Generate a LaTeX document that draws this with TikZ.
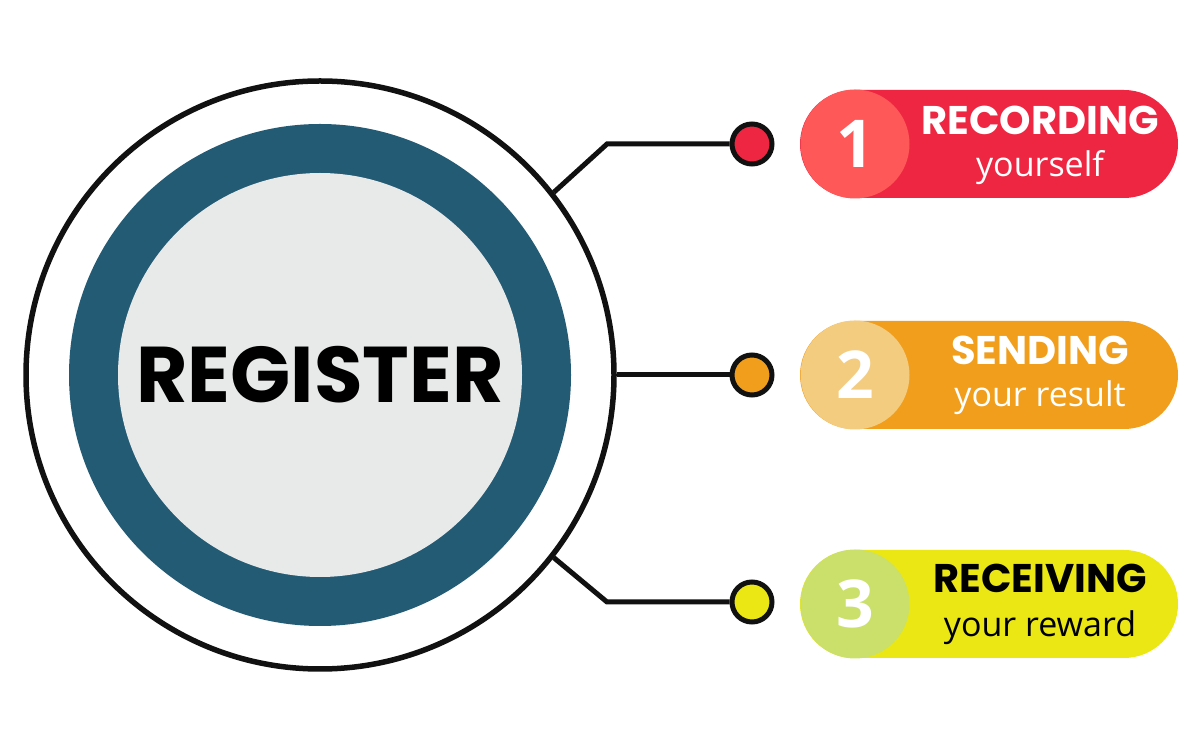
\documentclass[tikz,border=0pt]{standalone}
\usepackage{fontspec}
\setmainfont{Open Sans}
\newfontfamily\headfont{Poppins}
\usepackage{xcolor}
\definecolor{ringblue}{HTML}{235A74}
\definecolor{coregray}{HTML}{E8EAE9}
\definecolor{linedark}{HTML}{111111}
\definecolor{stepred}{HTML}{EE2641}
\definecolor{numred}{HTML}{FF5858}
\definecolor{steporange}{HTML}{F09E1C}
\definecolor{numorange}{HTML}{F3CC80}
\definecolor{stepyellow}{HTML}{EAE715}
\definecolor{numgreen}{HTML}{CAE06A}
\usepackage{tikz}
\usetikzlibrary{positioning, calc}
\tikzset{
    wire/.style = {line width=5pt, color=linedark, line join=miter},
    knob/.style = {circle, draw=linedark, line width=5pt, minimum size=40pt,
                   inner sep=0pt},
    pill/.style = {rectangle, rounded corners=54pt, minimum width=378pt,
                   minimum height=108pt, inner sep=0pt},
    numdisc/.style = {circle, minimum size=109pt, inner sep=0pt, text=white,
                      font=\bfseries\fontsize{66}{66}\selectfont},
    headline/.style = {anchor=base, inner sep=0pt,
                       font=\headfont\bfseries\fontsize{40}{44}\selectfont},
    subline/.style = {anchor=base, inner sep=0pt,
                      font=\fontsize{34}{38}\selectfont},
}

\begin{document}
\begin{tikzpicture}[x=1pt, y=1pt]
        \fill[white] (0,0) rectangle (1200,750);
        \useasboundingbox (0,0) rectangle (1200,750);
        % Central badge
        \node[circle, draw=linedark, line width=5.5pt, fill=white, minimum size=588pt,
              inner sep=0pt] (outer) at (320,375) {};
        \node[circle, fill=ringblue, minimum size=502pt, inner sep=0pt] (ring) at (outer) {};
        \node[circle, fill=coregray, minimum size=404pt, inner sep=0pt,
              font=\headfont\bfseries\fontsize{79}{79}\selectfont] (core) at (outer) {REGISTER};
        % Connector ends
        \node[knob, fill=stepred] (knob1) at (752,606) {};
        \node[knob, fill=steporange] (knob2) at (752,375) {};
        \node[knob, fill=stepyellow] (knob3) at (752,148) {};
        \coordinate (bend1) at (607,606);
        \coordinate (bend3) at (607,148);
        % Connectors
        \draw[wire] (outer.38) -- (bend1) -- (knob1);
        \draw[wire] (outer.east) -- (knob2);
        \draw[wire] (outer.-38) -- (bend3) -- (knob3);
        % Step 1
        \node[pill, fill=stepred] (pill1) at (989,606) {};
        \node[numdisc, fill=numred] (num1) at (855,606) {1};
        \node[headline, text=white] (head1) at (1040,615) {RECORDING};
        \node[subline, text=white] (sub1) at (1040,573) {yourself};
        % Step 2
        \node[pill, fill=steporange] (pill2) at (989,375) {};
        \node[numdisc, fill=numorange] (num2) at (855,375) {2};
        \node[headline, text=white] (head2) at (1040,385) {SENDING};
        \node[subline, text=white] (sub2) at (1040,343) {your result};
        % Step 3
        \node[pill, fill=stepyellow] (pill3) at (989,146) {};
        \node[numdisc, fill=numgreen] (num3) at (855,146) {3};
        \node[headline, text=black] (head3) at (1040,157) {RECEIVING};
        \node[subline, text=black] (sub3) at (1040,113) {your reward};
\end{tikzpicture}
\end{document}
